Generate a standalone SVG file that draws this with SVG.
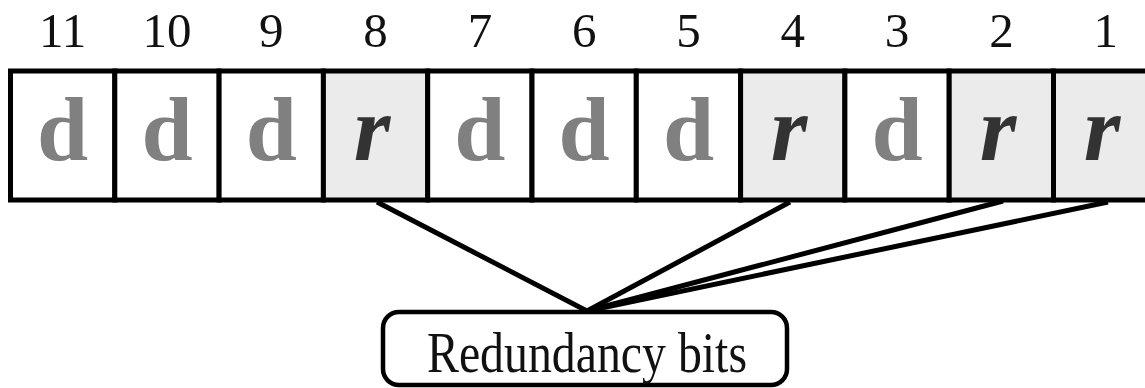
<svg xmlns="http://www.w3.org/2000/svg" width="1145" height="388" viewBox="0 0 1145 388">
<style>
.num{font-family:"Liberation Serif",serif;font-size:49px;fill:#111;text-anchor:middle}
.d{font-family:"Liberation Serif",serif;font-size:92px;font-weight:bold;fill:#808080;text-anchor:middle}
.r{font-family:"Liberation Serif",serif;font-size:94px;font-weight:bold;font-style:italic;fill:#333;text-anchor:middle}
.cell{stroke:#000;stroke-width:5}
.w{fill:#fff}
.g{fill:#ebebeb}
.ln{stroke:#000;stroke-width:5;fill:none}
</style>
<rect width="1145" height="388" fill="#fff"/>
<g id="cells">
<g id="c11"><rect class="cell w" x="10.5" y="71" width="104.3" height="129"/><text class="num" x="62.7" y="47">11</text><text class="d" x="62.7" y="160">d</text></g>
<g id="c10"><rect class="cell w" x="114.8" y="71" width="104.3" height="129"/><text class="num" x="167" y="47">10</text><text class="d" x="167" y="160">d</text></g>
<g id="c9"><rect class="cell w" x="219.1" y="71" width="104.3" height="129"/><text class="num" x="271.3" y="47">9</text><text class="d" x="271.3" y="160">d</text></g>
<g id="c8"><rect class="cell g" x="323.4" y="71" width="104.3" height="129"/><text class="num" x="375.6" y="47">8</text><text class="r" x="372" y="160">r</text></g>
<g id="c7"><rect class="cell w" x="427.7" y="71" width="104.3" height="129"/><text class="num" x="479.9" y="47">7</text><text class="d" x="479.9" y="160">d</text></g>
<g id="c6"><rect class="cell w" x="532" y="71" width="104.3" height="129"/><text class="num" x="584.2" y="47">6</text><text class="d" x="584.2" y="160">d</text></g>
<g id="c5"><rect class="cell w" x="636.3" y="71" width="104.3" height="129"/><text class="num" x="688.5" y="47">5</text><text class="d" x="688.5" y="160">d</text></g>
<g id="c4"><rect class="cell g" x="740.6" y="71" width="104.3" height="129"/><text class="num" x="792.8" y="47">4</text><text class="r" x="789" y="160">r</text></g>
<g id="c3"><rect class="cell w" x="844.9" y="71" width="104.3" height="129"/><text class="num" x="897.1" y="47">3</text><text class="d" x="897.1" y="160">d</text></g>
<g id="c2"><rect class="cell g" x="949.2" y="71" width="104.3" height="129"/><text class="num" x="1001.4" y="47">2</text><text class="r" x="998" y="160">r</text></g>
<g id="c1"><rect class="cell g" x="1053.5" y="71" width="104.3" height="129"/><text class="num" x="1105.7" y="47">1</text><text class="r" x="1102" y="160">r</text></g>
</g>
<g id="connectors">
<line class="ln" x1="377" y1="202" x2="587" y2="311"/>
<line class="ln" x1="790" y1="202" x2="587" y2="311"/>
<line class="ln" x1="1003" y1="201" x2="587" y2="311"/>
<line class="ln" x1="1108" y1="202" x2="587" y2="311"/>
</g>
<g id="redundancy">
<rect x="383" y="312" width="404" height="73" rx="16" fill="#fff" stroke="#000" stroke-width="4.5"/>
<text x="587" y="372" font-family="Liberation Serif, serif" font-size="56" fill="#111" text-anchor="middle" textLength="320" lengthAdjust="spacingAndGlyphs">Redundancy bits</text>
</g>
</svg>
